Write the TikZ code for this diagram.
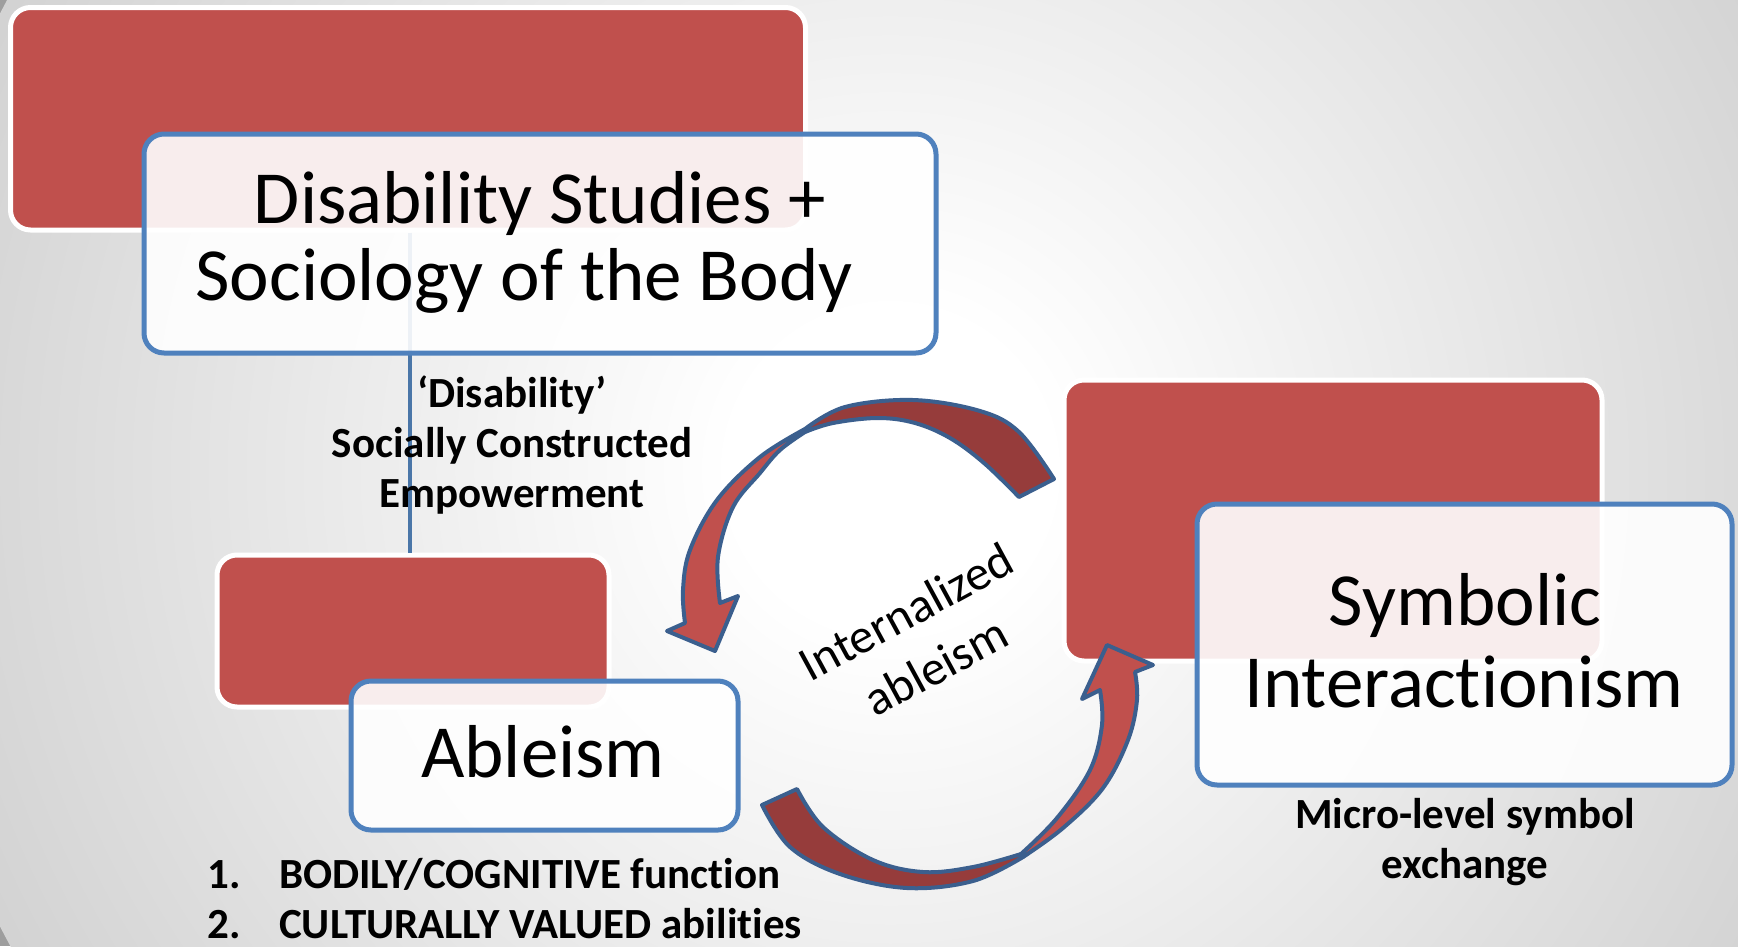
\documentclass[tikz,border=0pt]{standalone}
\usepackage{fontspec}
\setmainfont{Carlito}[Ligatures=NoCommon]
\definecolor{redfill}{HTML}{C0504D}
\definecolor{bluelin}{HTML}{4F81BD}
\definecolor{conncol}{HTML}{4A76A8}
\definecolor{arrdark}{HTML}{963C3B}
\definecolor{arrline}{HTML}{3B5F8E}
\definecolor{bggray}{HTML}{9E9E9E}
\pgfdeclareradialshading{bgshade}{\pgfpoint{0bp}{0bp}}{color(0bp)=(white); color(4bp)=(white); color(50bp)=(bggray)}
\tikzset{
  redbox/.style={draw=white, line width=5pt, fill=redfill, rounded corners=20pt, inner sep=0pt},
  bluebox/.style={draw=bluelin, line width=5pt, fill=white, fill opacity=0.9, rounded corners=20pt, inner sep=0pt},
  conn/.style={draw=conncol, line width=4pt},
  big/.style={font=\fontsize{75}{79}\selectfont, inner sep=0pt},
  lbl/.style={font=\fontsize{43}{50}\selectfont\bfseries, inner sep=0pt},
  rot/.style={font=\fontsize{49}{62}\selectfont, inner sep=0pt, align=center},
  arrback/.style={fill=arrdark, draw=arrline, line width=4pt, line join=round},
  arrfront/.style={fill=redfill, draw=arrline, line width=4pt, line join=round}
}
\begin{document}
\begin{tikzpicture}[x=1pt,y=-1pt]
\useasboundingbox (0,0) rectangle (1738,946);
\fill[bggray] (0,0) rectangle (1738,946);
\begin{scope}
\clip (0,0) rectangle (1738,946);
\shade[shading=bgshade] (890,470) circle (1000pt);
\end{scope}

% red boxes
\node[redbox, minimum width=795pt, minimum height=222.5pt] (rTop) at (408,118.75) {};
\node[redbox, minimum width=392pt, minimum height=152pt] (rLL) at (413,631) {};
\node[redbox, minimum width=538pt, minimum height=281pt] (rR) at (1333,520.5) {};

% connector
\path (rTop.south) ++(2,0) coordinate (c1);
\draw[conn] (c1) -- (c1 |- rLL.north);

% blue boxes
\node[bluebox, minimum width=792pt, minimum height=219pt] (bTop) at (540,243.5) {};
\node[bluebox, minimum width=387pt, minimum height=149pt] (bAbl) at (544.5,755.5) {};
\node[bluebox, minimum width=535pt, minimum height=281pt] (bSym) at (1464.5,644.5) {};

% box texts
\node[big, anchor=base] (t1) at (540,223) {Disability Studies +};
\node[big, anchor=base] (t2) at (524,300) {Sociology of the Body};
\node[big, anchor=base] (tA) at (543,777) {Ableism};
\node[big, anchor=base] (tS1) at (1465,625) {Symbolic};
\node[big, anchor=base] (tS2) at (1464,707) {Interactionism};

% bold labels
\node[lbl, anchor=base] (d1) at (512,407) {‘Disability’};
\node[lbl, anchor=base] (d2) at (512,457) {Socially Constructed};
\node[lbl, anchor=base] (d3) at (512,507) {Empowerment};
\node[lbl, anchor=base] (m1) at (1465,828) {Micro-level symbol};
\node[lbl, anchor=base] (m2) at (1465,878) {exchange};
\node[lbl, anchor=base west] (n1) at (207,888) {1.};
\node[lbl, anchor=base west] (l1) at (279,888) {BODILY/COGNITIVE function};
\node[lbl, anchor=base west] (n2) at (207,938) {2.};
\node[lbl, anchor=base west] (l2) at (279,938) {CULTURALLY VALUED abilities};

% upper curved arrow
\path[arrback] plot[smooth, tension=0.6] coordinates {(1054,479) (1019,432) (980,411) (913,400) (845,407) (805,429)}
  -- plot[smooth, tension=0.6] coordinates {(805,432) (833,423) (878,418) (915,423) (950,438) (984,463) (1019,497)} -- cycle;
\path[arrfront] plot[smooth, tension=0.6] coordinates {(805,429) (760,457) (717,500) (690,550) (683,590) (685,623)}
  -- (667,631) -- (715,651) -- (738,596)
  -- plot[smooth, tension=0.6] coordinates {(720,603) (718,557) (733,507) (760,473) (780,450) (805,432)} -- cycle;

% lower curved arrow
\path[arrback] plot[smooth, tension=0.6] coordinates {(762,805) (790,847) (840,874) (907,888) (973,881) (1023,857)}
  -- plot[smooth, tension=0.6] coordinates {(1021,854) (973,867) (923,872) (873,860) (823,827) (797,789)} -- cycle;
\path[arrfront] plot[smooth, tension=0.6] coordinates {(1023,857) (1063,828) (1103,788) (1128,740) (1137,700) (1135,672)}
  -- (1153,665) -- (1107,645) -- (1082,699)
  -- plot[smooth, tension=0.6] coordinates {(1100,690) (1102,725) (1090,770) (1057,818) (1021,854)} -- cycle;

% rotated label
\node[rot, rotate=28.5] (tInt) at (921,639) {Internalized\\ableism};
\end{tikzpicture}
\end{document}
